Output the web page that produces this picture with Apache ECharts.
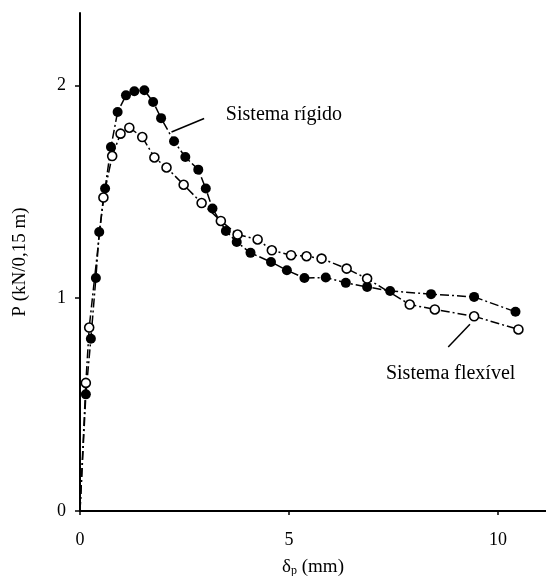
<!DOCTYPE html>
<html>
<head>
    <meta charset="utf-8">
    <title>P x delta</title>
    <script src="https://cdn.jsdelivr.net/npm/echarts@6/dist/echarts.min.js"></script>
    <style>
        html, body { margin: 0; padding: 0; background: #fff; }
        #chart { width: 546px; height: 576px; }
    </style>
</head>
<body>
<div id="chart"></div>
<script>
    // Sistema rígido (pontos cheios)
    var rigidoX = [0, 0.14, 0.26, 0.38, 0.46, 0.60, 0.74, 0.90, 1.10, 1.30, 1.54, 1.75, 1.94, 2.25, 2.52, 2.83, 3.01, 3.17, 3.49, 3.75, 4.08, 4.57, 4.95, 5.37, 5.88, 6.36, 6.87, 7.42, 8.40, 9.43, 10.42];
    var rigidoY = [0, 0.548, 0.809, 1.095, 1.311, 1.515, 1.710, 1.875, 1.953, 1.972, 1.977, 1.922, 1.846, 1.737, 1.663, 1.604, 1.515, 1.421, 1.316, 1.264, 1.213, 1.170, 1.131, 1.095, 1.097, 1.072, 1.053, 1.034, 1.019, 1.006, 0.936];
    // Sistema flexível (pontos vazios)
    var flexX = [0, 0.14, 0.22, 0.56, 0.77, 0.97, 1.18, 1.49, 1.78, 2.07, 2.48, 2.91, 3.37, 3.77, 4.25, 4.59, 5.05, 5.42, 5.78, 6.38, 6.87, 7.89, 8.49, 9.43, 10.49];
    var flexY = [0, 0.602, 0.862, 1.473, 1.668, 1.773, 1.801, 1.757, 1.661, 1.614, 1.533, 1.447, 1.363, 1.299, 1.276, 1.225, 1.202, 1.197, 1.186, 1.139, 1.092, 0.970, 0.947, 0.915, 0.853];

    var xTicks = [0, 5, 10];
    var yTicks = [0, 1, 2];

    // anotações (coordenadas em dados)
    var notes = [
        {text: 'Sistema rígido', from: [2.19, 1.781], to: [2.97, 1.844], at: [3.49, 1.860]},
        {text: 'Sistema flexível', from: [8.81, 0.771], to: [9.33, 0.878], at: [7.32, 0.645]}
    ];

    var serif = '"Liberation Serif", "DejaVu Serif", serif';

    function toData(xs, ys) {
        var out = [];
        for (var i = 0; i < xs.length; i++) {
            if (xs[i] === 0 && ys[i] === 0) {
                out.push({value: [0, 0], symbol: 'none'});
            } else {
                out.push([xs[i], ys[i]]);
            }
        }
        return out;
    }

    var dom = document.getElementById('chart');
    var myChart = echarts.init(dom, null, {renderer: 'canvas'});

    var option = {
        animation: false,
        backgroundColor: '#fff',
        grid: {left: 80, right: 0, top: 13, bottom: 65, containLabel: false, outerBoundsMode: 'none'},
        xAxis: {
            type: 'value',
            min: 0,
            max: 11.15,
            name: '{a|δ}{s|p}{a| (mm)}',
            nameLocation: 'middle',
            nameGap: 46,
            nameTextStyle: {
                rich: {
                    a: {fontFamily: serif, fontSize: 19, color: '#000'},
                    s: {fontFamily: serif, fontSize: 12, color: '#000', padding: [8, 0, 0, 0]}
                }
            },
            axisLine: {show: true, lineStyle: {color: '#000', width: 2}},
            axisTick: {show: true, customValues: xTicks, length: 4, lineStyle: {color: '#000', width: 1.5}},
            axisLabel: {customValues: xTicks, margin: 20, color: '#000', fontFamily: serif, fontSize: 18},
            splitLine: {show: false}
        },
        yAxis: {
            type: 'value',
            min: 0,
            max: 2.34,
            name: 'P (kN/0,15 m)',
            nameLocation: 'middle',
            nameRotate: 90,
            nameGap: 50,
            nameTextStyle: {fontFamily: serif, fontSize: 19, color: '#000'},
            axisLine: {show: true, lineStyle: {color: '#000', width: 2}},
            axisTick: {show: true, customValues: yTicks, length: 5, lineStyle: {color: '#000', width: 1.5}},
            axisLabel: {customValues: yTicks, margin: 14, color: '#000', fontFamily: serif, fontSize: 18},
            splitLine: {show: false}
        },
        series: [
            {
                name: 'Sistema rígido',
                type: 'line',
                data: toData(rigidoX, rigidoY),
                symbol: 'circle',
                symbolSize: 10,
                itemStyle: {color: '#000'},
                lineStyle: {color: '#000', width: 1.5, type: [9, 3, 2, 3]},
                z: 3
            },
            {
                name: 'Sistema flexível',
                type: 'line',
                data: toData(flexX, flexY),
                symbol: 'circle',
                symbolSize: 9,
                itemStyle: {color: '#fff', borderColor: '#000', borderWidth: 1.6},
                lineStyle: {color: '#000', width: 1.5, type: [9, 3, 2, 3]},
                z: 4
            }
        ]
    };

    myChart.setOption(option);

    // linhas de chamada e textos
    var g = [];
    notes.forEach(function (n) {
        var p1 = myChart.convertToPixel({gridIndex: 0}, n.from);
        var p2 = myChart.convertToPixel({gridIndex: 0}, n.to);
        var pt = myChart.convertToPixel({gridIndex: 0}, n.at);
        g.push({
            type: 'line',
            shape: {x1: p1[0], y1: p1[1], x2: p2[0], y2: p2[1]},
            style: {stroke: '#000', lineWidth: 1.5}
        });
        g.push({
            type: 'text',
            x: pt[0],
            y: pt[1],
            style: {text: n.text, fill: '#000', font: '20px ' + serif, textAlign: 'left', textVerticalAlign: 'middle'}
        });
    });
    myChart.setOption({graphic: g});

    window.addEventListener('resize', myChart.resize);
</script>
</body>
</html>
